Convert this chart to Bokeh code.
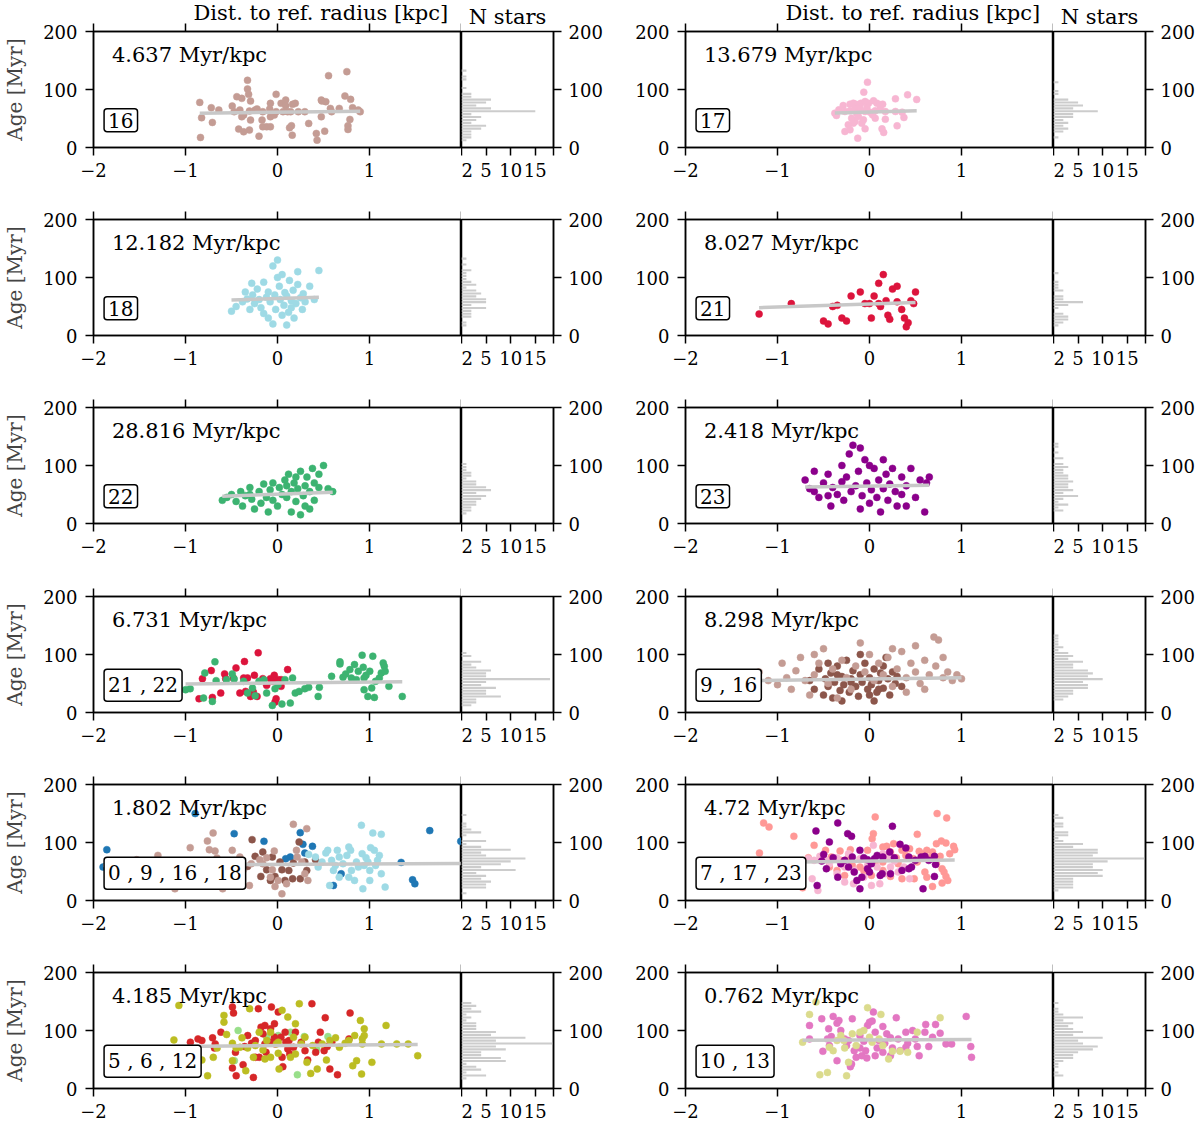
import numpy as np
from bokeh.plotting import figure
from bokeh.layouts import column, row
from bokeh.models import LinearAxis, FixedTicker, Label, Range1d
from bokeh.embed import file_html
from bokeh.resources import INLINE

# ---------------- data (x = distance to ref. radius [kpc], age [Myr]) ----------------
P16_G16 = [(-0.845,77.8),(-0.825,51.3),(-0.837,17.3),(-0.72,68.6),(-0.708,43.2),(-0.638,64.6),(-0.492,71.5),(-0.471,61.7),
           (-0.442,87.6),(-0.388,84.7),(-0.326,115.9),(-0.326,100.9),(-0.314,91.6),(-0.293,80.1),(-0.409,64.6),(-0.388,53.0),
           (-0.368,55.9),(-0.422,31.7),(-0.368,27.1),(-0.305,30.0),(-0.293,47.3),(-0.243,64.6),(-0.222,66.3),(-0.201,19.6),
           (-0.168,47.3),(-0.16,35.7),(-0.118,35.7),(-0.077,35.7),(-0.077,53.0),(-0.015,91.6),(-0.077,76.1),(-0.085,66.3),
           (0.039,76.1),(0.089,81.8),(0.089,72.0),(0.11,61.7),(0.143,61.7),(0.164,74.4),(0.193,76.1),(0.226,61.7),
           (0.131,34.0),(0.16,21.3),(0.152,37.5),(0.06,61.7),(-0.015,61.7),(0.339,41.5),(0.476,81.8),(0.484,80.1),
           (0.476,53.0),(0.513,28.2),(0.422,24.2),(0.43,12.7),(0.525,79.0),(0.555,123.9),(0.575,67.4),(0.733,88.8),
           (0.754,130.8),(0.766,37.5),(0.766,31.1),(0.795,83.0),(0.787,48.4),(0.816,68.6),(0.878,64.6),(0.899,61.7),
           (0.588,61.7),(0.671,67.4),(-0.305,62.8),(-0.16,61.7),(-0.035,55.9),(0.297,61.7)]

P17_G17 = [(-0.022,112.6),(-0.062,95.4),(0.282,83.9),(0.414,90.8),(0.513,82.8),(-0.212,74.7),(-0.176,76.4),(-0.15,74.7),
           (-0.121,73.6),(-0.092,76.4),(-0.048,79.3),(-0.011,76.4),(0.044,80.5),(0.081,76.4),(0.117,73.6),(0.143,74.7),
           (-0.286,72.4),(-0.333,64.9),(-0.377,59.2),(-0.359,55.2),(-0.267,62.1),(-0.212,63.2),(-0.158,66.7),(-0.103,66.7),
           (-0.048,62.1),(0.007,60.9),(0.062,63.2),(0.117,66.7),(-0.194,50.6),(-0.158,44.8),(-0.121,53.4),(-0.066,47.7),
           (0.062,50.6),(0.172,48.8),(0.282,62.1),(0.355,60.9),(0.374,51.7),(-0.267,27.6),(-0.212,30.5),(-0.048,32.2),
           (0.136,32.2),(0.154,25.9),(0.3,37.4),(-0.128,16.1),(-0.176,42.0),(-0.231,39.1),(-0.139,59.2),(-0.029,69.0),
           (0.033,56.3),(-0.084,42.0),(0.172,62.1)]

P18_G18 = [(-0.5,42),(-0.45,50),(-0.38,58),(-0.33,63),(-0.3,45),(-0.27,70),(-0.25,55),(-0.22,80),(-0.2,62),(-0.18,48),
           (-0.15,92),(-0.12,66),(-0.1,75),(-0.08,58),(-0.05,120),(-0.03,70),(0.0,130),(0.02,85),(0.03,62),(0.05,105),
           (0.07,52),(0.08,74),(0.1,68),(0.12,40),(0.13,95),(0.15,60),(0.17,78),(0.18,30),(0.2,55),(0.22,88),
           (0.25,65),(0.27,45),(0.28,72),(0.3,58),(0.35,85),(0.4,62),(0.45,112),(-0.1,30),(-0.05,20),(0.05,35),
           (-0.15,38),(0.1,18),(-0.35,75),(0.0,100),(-0.02,45),(0.15,48),(-0.28,90),(0.22,110)]

P21_G21 = [(-1.2,37),(-0.85,55),(-0.5,25),(-0.45,20),(-0.35,52),(-0.3,30),(-0.25,25),(-0.2,68),(-0.1,75),(-0.05,55),
           (0.0,55),(0.02,30),(0.05,68),(0.1,90),(0.12,50),(0.15,105),(0.2,35),(0.22,28),(0.25,80),(0.3,58),
           (0.35,45),(0.38,30),(0.4,15),(0.42,22),(0.45,60),(0.48,55),(0.5,75),(0.3,85),(-0.4,50),(0.1,55),(0.18,60)]

P22_G22 = [(-0.6,40),(-0.55,45),(-0.5,50),(-0.45,38),(-0.4,55),(-0.38,30),(-0.35,48),(-0.3,62),(-0.28,42),(-0.25,25),
           (-0.2,55),(-0.18,35),(-0.15,68),(-0.12,45),(-0.1,20),(-0.08,58),(-0.05,40),(0.0,30),(0.02,62),(0.05,50),
           (0.08,75),(0.1,45),(0.12,85),(0.15,55),(0.18,70),(0.2,38),(0.22,60),(0.25,90),(0.28,48),(0.3,65),
           (0.32,80),(0.35,55),(0.38,95),(0.4,70),(0.45,85),(0.5,100),(0.55,60),(0.6,55),(0.25,15),(0.3,30),
           (-0.05,70),(0.15,20),(0.4,40),(-0.3,50),(0.45,62),(0.1,65),(0.2,80),(0.35,25)]

P23_G23 = [(-0.7,75),(-0.65,60),(-0.6,55),(-0.55,45),(-0.5,70),(-0.45,85),(-0.42,30),(-0.4,62),(-0.35,50),(-0.3,100),
           (-0.28,40),(-0.25,80),(-0.22,120),(-0.2,55),(-0.18,135),(-0.15,65),(-0.12,90),(-0.1,25),(-0.08,48),(-0.05,110),
           (-0.03,70),(0.0,35),(0.02,58),(0.05,95),(0.08,45),(0.1,75),(0.12,20),(0.15,60),(0.18,85),(0.2,40),
           (0.22,68),(0.25,95),(0.28,55),(0.3,30),(0.35,80),(0.4,65),(0.45,95),(0.5,45),(0.55,75),(0.6,20),
           (0.62,70),(0.65,80),(-0.6,90),(-0.3,72),(0.0,100),(0.35,50),(-0.1,130),(0.15,110),(0.4,30),(-0.45,48)]

P2122_G21 = [(-0.853,23.7),(-0.816,58.4),(-0.72,72.3),(-0.708,26.0),(-0.617,33.5),(-0.575,66.5),(-0.563,58.4),(-0.48,59.5),
             (-0.451,76.9),(-0.409,33.5),(-0.368,59.5),(-0.359,87.9),(-0.347,36.4),(-0.326,59.5),(-0.293,27.7),(-0.251,64.2),
             (-0.222,27.7),(-0.21,102.9),(-0.16,58.4),(-0.077,58.4),(-0.056,53.8),(-0.035,64.2),(-0.027,17.9),(-0.015,23.7),
             (0.006,56.6),(0.039,45.1),(0.11,74.0),(0.039,56.6),(-0.118,46.8),(-0.263,35.3)]
P2122_G22 = [(-0.949,41.0),(-0.804,24.9),(-0.79,68.2),(-0.708,19.1),(-0.68,87.3),(-0.492,66.5),(-0.471,57.8),(-0.326,33.5),
             (-0.243,28.9),(-0.272,42.2),(-0.368,53.8),(-0.201,53.8),(-0.147,56.6),(-0.118,33.5),(-0.056,12.1),(-0.027,41.0),
             (0.006,48.0),(0.048,14.5),(0.081,56.6),(0.139,16.2),(0.164,59.5),(0.193,33.5),(0.235,36.4),(0.297,41.0),
             (0.339,43.4),(0.442,27.7),(0.455,43.4),(0.588,62.4),(0.679,83.8),(0.679,87.3),(0.712,60.7),(0.741,66.5),
             (0.787,74.0),(0.803,59.5),(0.837,82.7),(0.878,71.1),(0.92,98.8),(0.932,78.0),(0.941,59.5),(0.941,39.3),
             (0.962,64.2),(0.982,27.7),(1.024,42.2),(1.036,97.1),(1.053,26.0),(1.107,59.5),(1.128,68.2),(1.149,85.5),
             (1.161,79.8),(1.17,71.1),(1.211,45.1),(1.356,27.7),(1.003,71.1),(1.066,53.8),(0.857,56.6),(-0.555,56.6),
             (-0.667,54.9),(-0.999,39.3)]

P916_G9 = [(-0.65,55),(-0.6,40),(-0.55,75),(-0.5,30),(-0.48,58),(-0.45,45),(-0.42,68),(-0.4,25),(-0.38,52),(-0.35,80),
           (-0.32,38),(-0.3,62),(-0.28,48),(-0.25,90),(-0.22,35),(-0.2,58),(-0.18,72),(-0.15,45),(-0.12,28),(-0.1,65),
           (-0.08,52),(-0.05,85),(-0.02,40),(0.0,60),(0.02,48),(0.05,75),(0.08,35),(0.1,55),(0.12,68),(0.15,42),
           (0.18,95),(0.2,58),(0.22,30),(0.25,70),(0.28,50),(0.3,62),(0.35,45),(-0.3,20),(-0.1,100),(0.05,20),
           (-0.45,85),(0.15,80),(-0.2,52),(0.1,40),(-0.35,65),(0.0,30)]
P916_G16 = [(-1.2,70),(-1.1,55),(-1.0,48),(-0.95,85),(-0.9,60),(-0.85,40),(-0.8,72),(-0.75,95),(-0.7,55),(-0.65,30),
            (-0.6,65),(-0.55,85),(-0.5,110),(-0.45,50),(-0.4,75),(-0.35,25),(-0.3,90),(-0.25,60),(-0.2,40),(-0.1,120),
            (-0.05,70),(0.0,100),(0.05,55),(0.1,85),(0.15,65),(0.2,95),(0.25,45),(0.3,75),(0.35,105),(0.4,60),
            (0.45,85),(0.5,70),(0.55,50),(0.6,90),(0.65,65),(0.7,130),(0.72,80),(0.75,125),(0.8,60),(0.85,70),
            (0.9,55),(0.95,65),(1.0,58),(0.6,40),(0.4,35),(-0.15,80),(0.25,110),(-0.6,100),(0.5,115),(0.8,95)]

P0_G0 = [(-1.855,87.6),(-1.896,57.6),(-0.895,149.9),(-0.471,115.3),(-0.147,102.0),(0.139,74.9),(0.247,117.0),(0.276,96.8),
         (0.38,93.4),(0.608,25.9),(0.692,46.1),(1.344,65.7),(1.468,35.7),(1.493,28.8),(1.655,120.5),(1.992,102.0),
         (0.297,81.8),(0.089,72.0)]
P0_G9 = [(-0.276,104.9),(-0.118,53.0),(-0.181,41.5),(-0.077,34.6),(-0.027,41.5),(0.048,53.0),(0.081,34.6),(0.123,51.9),
         (0.164,37.5),(0.235,100.9),(0.247,37.5),(0.297,66.3),(0.318,51.9),(0.413,70.3),(-0.243,76.1),(-0.056,74.9),
         (-0.326,58.8),(-0.16,83.6),(0.172,64.6),(0.027,66.3)]
P0_G16 = [(-1.24,66.3),(-1.115,20.2),(-0.949,91.1),(-0.762,54.8),(-0.7,116.4),(-0.762,102.6),(-0.741,87.6),(-0.679,85.3),
          (-0.596,20.2),(-0.583,37.5),(-0.658,73.2),(-0.525,60.5),(-0.442,51.9),(-0.376,51.9),(-0.305,25.9),(-0.193,70.3),
          (-0.16,63.4),(-0.118,73.8),(-0.035,85.3),(-0.027,24.2),(0.006,34.6),(0.048,11.5),(0.098,28.8),(0.172,131.4),
          (0.206,86.5),(0.214,74.9),(0.264,66.3),(0.318,123.9),(0.33,34.6),(0.297,46.1),(-0.056,53.0),(-0.285,63.4),
          (-0.409,74.9),(-0.077,40.3),(-0.492,86.5),(-1.3,77.8),(-1.53,70.3)]
P0_G18 = [(0.339,79.5),(0.413,74.9),(0.442,57.6),(0.525,81.8),(0.546,86.5),(0.567,25.9),(0.588,69.2),(0.629,60.5),
          (0.65,86.5),(0.671,74.9),(0.712,63.4),(0.754,77.8),(0.775,40.3),(0.795,86.5),(0.804,51.9),(0.837,34.6),
          (0.858,66.3),(0.912,129.7),(0.92,80.7),(0.928,20.2),(0.962,73.8),(0.983,66.3),(1.003,51.9),(1.012,91.1),
          (1.036,116.4),(1.053,86.5),(1.087,69.2),(1.107,77.8),(1.128,114.1),(1.128,46.1),(1.17,23.1),(1.003,34.6),
          (0.879,57.6),(0.671,40.3),(0.484,66.3),(0.608,51.9),(0.941,60.5),(1.066,60.5),(0.775,92.2)]

P7_G7 = [(-1.151,133.7),(-1.092,126.8),(-1.196,81.8),(-0.822,110.7),(-0.602,95.1),(-0.665,73.8),(-0.727,21.9),(0.062,144.1),
         (0.042,115.3),(0.029,106.6),(0.735,149.9),(0.839,142.4),(0.781,102.6),(0.831,99.1),(0.914,93.4),(0.926,87.6),
         (0.519,114.1),(0.262,98.0),(0.145,92.2),(-0.208,87.6),(-0.32,85.3),(-0.415,74.9),(-0.478,86.5),(-0.527,69.2),
         (-0.312,69.2),(-0.187,60.5),(-0.104,57.6),(-0.021,51.9),(0.062,66.3),(0.166,76.1),(0.228,83.6),(0.291,73.8),
         (0.353,86.5),(0.395,77.8),(0.436,89.3),(0.478,72.0),(0.54,84.7),(0.582,80.7),(0.623,86.5),(0.652,73.8),
         (0.685,83.6),(0.727,63.4),(0.789,54.8),(0.81,49.0),(0.831,41.5),(0.851,34.6),(0.789,30.0),(0.685,24.2),
         (0.623,40.3),(0.602,49.0),(0.486,37.5),(0.353,37.5),(0.228,41.5),(0.145,51.9),(0.021,43.2),(-0.062,51.9),
         (-0.27,43.2),(-0.353,51.9),(-0.436,57.6),(-0.021,86.5),(0.187,93.4),(0.727,98.0),(0.768,76.1),(0.872,80.7),
         (0.519,66.3),(0.312,63.4),(0.145,66.3),(-0.228,74.9)]
P7_G17 = [(-0.665,72.0),(-0.602,69.2),(-0.54,76.1),(-0.478,70.3),(-0.623,37.5),(-0.561,17.3),(-0.27,31.7),(-0.174,28.8),
          (0.021,25.9),(0.112,28.8),(0.166,46.1),(0.042,95.1),(0.145,80.7),(0.208,73.8),(0.27,68.0),(0.374,57.6),
          (0.436,37.5),(-0.436,63.4),(-0.353,73.8),(-0.27,57.6),(-0.166,51.9),(-0.104,72.0),(-0.021,60.5),(0.083,57.6),
          (0.312,49.0),(-0.228,80.7),(0.228,57.6),(-0.062,40.3),(-0.353,46.1)]
P7_G23 = [(-0.569,25.9),(-0.582,119.9),(-0.519,68.0),(-0.498,79.5),(-0.469,54.8),(-0.436,100.9),(-0.395,73.8),(-0.345,133.7),
          (-0.345,40.3),(-0.312,63.4),(-0.27,69.2),(-0.237,115.3),(-0.195,110.7),(-0.187,74.9),(-0.166,49.0),(-0.137,34.6),
          (-0.104,20.2),(-0.083,40.3),(-0.062,73.8),(-0.021,54.8),(0.0,49.0),(0.021,63.4),(0.054,72.0),(0.083,77.8),
          (0.116,43.2),(0.137,46.1),(0.145,74.9),(0.22,83.6),(0.249,128.0),(0.228,46.1),(0.27,73.8),(0.332,96.8),
          (0.395,90.5),(0.428,74.9),(0.428,54.8),(0.457,57.6),(0.498,69.2),(0.561,74.9),(0.582,20.2),(0.602,76.1),
          (0.644,69.2),(0.706,76.1),(0.718,62.2),(0.706,41.5),(0.353,51.9),(-0.228,57.6),(-0.021,70.3),(-0.104,86.5)]

P5_G5 = [(-0.469,48.0),(-0.428,100.0),(0.008,91.3),(0.141,97.1),(0.216,23.7),(0.291,89.6),(0.424,68.2),(0.548,89.6),
         (-0.116,88.4)]
P5_G6 = [(-0.947,79.8),(-0.864,85.5),(-0.822,82.7),(-0.706,87.3),(-0.685,69.9),(-0.615,97.1),(-0.49,140.5),(-0.478,130.1),
         (-0.457,62.4),(-0.49,35.3),(-0.449,22.0),(-0.374,41.0),(-0.324,91.3),(-0.282,78.0),(-0.262,19.1),(-0.241,53.8),
         (-0.208,137.6),(-0.199,53.8),(-0.179,105.8),(-0.158,94.2),(-0.137,108.7),(-0.125,62.4),(-0.075,79.8),(-0.066,140.5),
         (-0.033,111.6),(-0.025,76.9),(0.008,131.8),(0.037,88.4),(0.05,53.8),(0.058,37.6),(0.083,97.1),(0.091,79.8),
         (0.125,82.7),(0.133,59.5),(0.195,97.1),(0.258,79.8),(0.328,49.1),(0.374,146.2),(0.415,62.4),(0.444,79.8),
         (0.465,97.1),(0.507,65.3),(0.519,122.0),(0.54,72.3),(0.569,33.5),(0.59,79.8),(0.652,23.7),(0.777,85.5),
         (0.789,130.1),(-0.241,82.7),(-0.137,76.9),(-0.075,102.9),(0.112,68.2),(0.299,65.3),(-0.677,76.9),(-0.357,72.3),
         (-0.033,88.4),(0.174,71.1)]
P5_G12 = [(-1.072,143.3),(-1.126,83.8),(-1.03,59.5),(-0.926,45.1),(-0.822,49.1),(-0.76,22.0),(-0.698,53.8),(-0.582,126.0),
          (-0.582,114.4),(-0.553,93.1),(-0.49,48.0),(-0.449,69.9),(-0.386,87.3),(-0.324,69.9),(-0.303,137.6),(-0.262,53.8),
          (-0.241,74.0),(-0.199,97.1),(-0.158,66.5),(-0.116,82.7),(-0.075,53.8),(-0.012,76.9),(0.017,33.5),(0.05,134.7),
          (0.112,123.1),(0.141,53.8),(0.174,88.4),(0.195,111.6),(0.237,146.2),(0.258,76.9),(0.299,88.4),(0.32,45.1),
          (0.361,26.0),(0.382,74.0),(0.432,33.5),(0.486,76.9),(0.532,49.1),(0.569,82.7),(0.631,87.3),(0.673,71.1),
          (0.735,78.0),(0.776,82.7),(0.818,39.3),(0.839,91.3),(0.86,48.0),(0.901,117.3),(0.922,76.9),(0.943,102.9),
          (0.943,91.3),(0.914,24.9),(1.026,45.1),(1.13,76.9),(1.18,108.7),(1.296,76.9),(1.421,76.9),(1.524,56.6),
          (0.922,85.6),(-0.49,78.0),(-0.656,69.9),(-0.345,30.6),(-0.137,50.9),(0.008,60.7),(0.195,59.5),(-0.075,97.1),
          (0.008,79.8),(-0.407,71.1)]

P10_G10 = [(-0.652,108.7),(-0.652,85.5),(-0.519,120.2),(-0.507,64.2),(-0.436,74.0),(-0.444,102.9),(-0.415,89.6),(-0.395,124.3),
           (-0.353,112.7),(-0.332,117.3),(-0.312,100.0),(-0.27,85.5),(-0.249,74.0),(-0.228,82.7),(-0.208,37.6),(-0.195,42.2),
           (-0.187,120.2),(-0.166,65.3),(-0.145,53.8),(-0.104,69.9),(-0.083,56.6),(-0.062,81.5),(-0.042,65.3),(-0.029,52.6),
           (-0.021,108.7),(0.0,114.4),(0.029,116.2),(0.042,131.8),(0.062,97.1),(0.083,69.9),(0.104,82.7),(0.145,106.9),
           (0.166,78.0),(0.187,94.2),(0.228,87.3),(0.249,69.9),(0.291,122.0),(0.312,85.5),(0.332,65.3),(0.395,97.1),
           (0.415,78.0),(0.469,100.0),(0.498,85.5),(0.519,72.3),(0.54,56.6),(0.611,110.4),(0.644,72.3),(0.685,88.4),
           (0.718,110.4),(0.768,95.4),(0.831,76.9),(0.893,76.9),(1.051,124.3),(1.101,72.3),(1.109,53.8),(-0.353,48.0),
           (-0.457,85.5),(0.062,56.6),(0.228,56.6),(0.395,71.1),(-0.104,91.3),(0.602,97.1),(0.145,62.4)]
P10_G13 = [(-0.727,79.8),(-0.652,127.7),(-0.582,149.1),(-0.54,23.7),(-0.457,27.7),(-0.395,65.3),(-0.353,82.7),(-0.312,91.3),
           (-0.278,82.7),(-0.249,22.0),(-0.228,45.1),(-0.187,94.2),(-0.104,97.1),(-0.062,100.0),(-0.021,139.3),(0.0,88.4),
           (0.029,79.8),(0.124,127.7),(0.145,74.0),(0.208,50.9),(0.249,64.2),(0.332,64.2),(0.415,62.4),(0.519,97.1),
           (0.768,122.0),(-0.27,69.9),(-0.436,71.1),(0.104,85.5),(-0.145,74.0)]

GROUP_COLORS = {0: "#1f77b4", 5: "#98df8a", 6: "#d62728", 7: "#ff9896", 9: "#8c564b", 10: "#e377c2",
                12: "#bcbd22", 13: "#dbdb8d", 16: "#c49c94", 17: "#f7b6d2", 18: "#9edae5",
                21: "#dc143c", 22: "#3cb371", 23: "#8b008b"}

PANEL_GROUPS = [[(16, P16_G16)], [(17, P17_G17)], [(18, P18_G18)], [(21, P21_G21)], [(22, P22_G22)], [(23, P23_G23)],
                [(21, P2122_G21), (22, P2122_G22)], [(9, P916_G9), (16, P916_G16)],
                [(0, P0_G0), (9, P0_G9), (16, P0_G16), (18, P0_G18)], [(7, P7_G7), (17, P7_G17), (23, P7_G23)],
                [(5, P5_G5), (6, P5_G6), (12, P5_G12)], [(10, P10_G10), (13, P10_G13)]]
SLOPE_TEXT = ["4.637 Myr/kpc", "13.679 Myr/kpc", "12.182 Myr/kpc", "8.027 Myr/kpc", "28.816 Myr/kpc", "2.418 Myr/kpc",
              "6.731 Myr/kpc", "8.298 Myr/kpc", "1.802 Myr/kpc", "4.72 Myr/kpc", "4.185 Myr/kpc", "0.762 Myr/kpc"]
FIT_AGE_LEFT = [59, 59.5, 61, 48, 47, 63, 49, 55, 60.5, 65.5, 72.5, 83]
FIT_AGE_RIGHT = [62.5, 63.5, 66, 57, 54, 66, 53, 60, 64, 70, 76, 84.5]

X_TICKS = [-2, -1, 0, 1]
X_TOP_TICKS = [-2, -1, 0, 1, 2]
AGE_TICKS = [0, 100, 200]
N_TICKS = [0, 5, 10, 15]
N_MAX = 18.7
X_TITLE = "Dist. to ref. radius [kpc]"
N_TITLE = "N stars"

# ---------------- styling ----------------
FONT = "DejaVu Serif"
TICK_FS = "18px"
TEXT_FS = "21px"
BOX_FS = "20px"
FRAME_W, HIST_W, FRAME_H = 368, 92, 116
ROW_TOP = [31, 32, 32, 33, 32, 32]
ROW_BOTTOM = [40, 40, 40, 40, 40, 36]
HIST_EDGES = np.arange(0, 205, 5)


def style_axis(ax, ticks, minor=None, overrides=None, standoff=8):
    ax.ticker = FixedTicker(ticks=ticks, minor_ticks=minor or [])
    ax.major_tick_in = 0
    ax.major_tick_out = 8
    ax.major_tick_line_width = 1.5
    ax.minor_tick_in = 0
    ax.minor_tick_out = 8
    ax.minor_tick_line_width = 1.5
    ax.minor_tick_line_color = "black"
    ax.axis_line_width = 1.5
    ax.major_label_text_font = FONT
    ax.major_label_text_font_size = TICK_FS
    ax.major_label_standoff = standoff
    ax.major_label_text_color = "black"
    if overrides is not None:
        ax.major_label_overrides = overrides


def style_title(t, align, offset, standoff):
    t.align = align
    t.offset = offset
    t.standoff = standoff
    t.text_font = FONT
    t.text_font_size = TEXT_FS
    t.text_font_style = "normal"
    t.text_color = "black"


def make_pair(idx, col, r):
    groups = PANEL_GROUPS[idx]
    T, B = ROW_TOP[r], ROW_BOTTOM[r]
    s = figure(frame_width=FRAME_W, frame_height=FRAME_H, x_range=Range1d(-2, 2), y_range=Range1d(0, 200),
               output_backend="svg", toolbar_location=None,
               title=X_TITLE if r == 0 else None,
               min_border_left=91 if col == 0 else 80, min_border_right=0,
               min_border_top=T, min_border_bottom=B)
    if r == 0:
        style_title(s.title, "left", 100, -3)
    s.grid.visible = False
    s.outline_line_color = "black"
    s.outline_line_width = 1.5
    s.background_fill_color = "white"
    style_axis(s.xaxis[0], X_TICKS, overrides={-2: "\u22122", -1: "\u22121"}, standoff=7)
    style_axis(s.yaxis[0], AGE_TICKS)
    if col == 0:
        s.yaxis[0].axis_label = "Age [Myr]"
        s.yaxis[0].axis_label_text_font = FONT
        s.yaxis[0].axis_label_text_font_size = "20px"
        s.yaxis[0].axis_label_text_font_style = "normal"
        s.yaxis[0].axis_label_standoff = 13
    top = LinearAxis()
    style_axis(top, [], minor=X_TOP_TICKS)
    s.add_layout(top, "above")

    all_x, all_age = [], []
    for g, pts in groups:
        xs = [p[0] for p in pts]
        ages = [p[1] for p in pts]
        all_x += xs
        all_age += ages
        s.scatter(xs, ages, size=7, fill_color=GROUP_COLORS[g], line_color=GROUP_COLORS[g], line_width=0.5)
    x0, x1 = min(all_x), max(all_x)
    s.line([x0, x1], [FIT_AGE_LEFT[idx], FIT_AGE_RIGHT[idx]], line_width=3.5, line_color="#c8c8c8")

    s.add_layout(Label(x=-1.8, y=160, text=SLOPE_TEXT[idx], text_font=FONT, text_font_size=TEXT_FS,
                       text_baseline="alphabetic", text_align="left", text_color="black"))
    box_text = " , ".join(str(g) for g, _ in groups)
    s.add_layout(Label(x=-1.885, y=47, text=box_text, text_font=FONT, text_font_size=BOX_FS,
                       text_baseline="middle", text_align="left", text_color="black",
                       border_line_color="black", border_line_width=1.5, background_fill_color="white",
                       background_fill_alpha=1.0, padding=4, border_radius=3))

    h = figure(frame_width=HIST_W, frame_height=FRAME_H, x_range=Range1d(0, N_MAX), y_range=Range1d(0, 200),
               output_backend="svg", toolbar_location=None, y_axis_location="right",
               title=N_TITLE if r == 0 else None,
               min_border_left=0, min_border_right=50,
               min_border_top=T, min_border_bottom=B)
    if r == 0:
        style_title(h.title, "center", 0, 5)
    h.grid.visible = False
    h.outline_line_color = "black"
    h.outline_line_width = 1.5
    style_axis(h.xaxis[0], N_TICKS, minor=[N_MAX], overrides={0: "2"}, standoff=7)
    style_axis(h.yaxis[0], AGE_TICKS, standoff=7)
    counts, edges = np.histogram(all_age, bins=HIST_EDGES)
    centers = (edges[:-1] + edges[1:]) / 2
    keep = counts > 0
    h.hbar(y=centers[keep], left=0, right=counts[keep], height=3.6, fill_color="#cccccc", line_color=None)
    return s, h


rows = []
for r in range(6):
    figs = []
    for col in range(2):
        s, h = make_pair(2 * r + col, col, r)
        figs += [s, h]
    rows.append(row(*figs))

p = column(*rows)
open("out.html", "w").write(file_html(p, INLINE))
